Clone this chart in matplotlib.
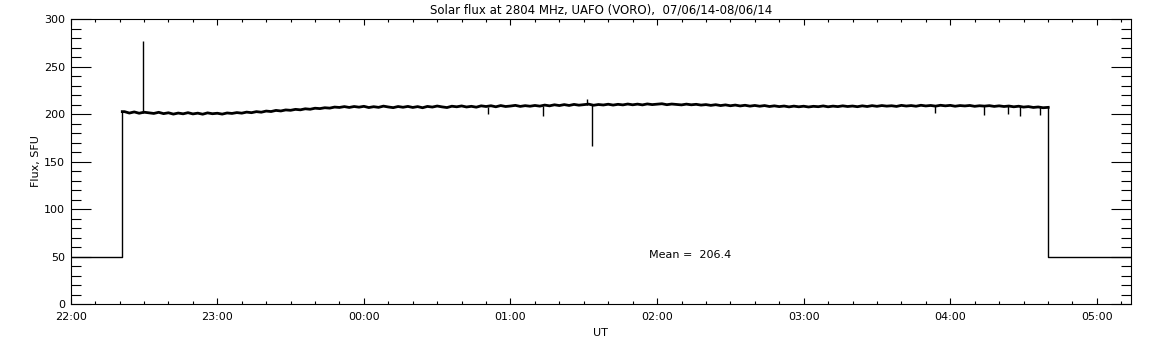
#Solar flux at 2804 MHz, UAFO (VORO)
import numpy as np
import matplotlib
matplotlib.use('Agg')
import matplotlib.pyplot as plt
from matplotlib.ticker import FixedLocator, MultipleLocator

#time in minutes after 22:00 UT
t_start = 21.1
t_end = 400.1
t_max = 434
off_level = 50

#flux samples every 2 minutes, 22 .. 400 min
flux = [
    202.5, 201.0, 202.2, 200.8, 201.9, 201.2, 200.6, 201.8, 200.4, 201.3, 199.9, 201.0, 200.2, 201.4, 200.1,
    200.9, 199.8, 201.2, 200.3, 200.8, 199.9, 201.1, 200.6, 201.5, 200.9, 202.0, 201.4, 202.5, 201.9, 203.1,
    202.6, 203.8, 203.2, 204.3, 203.9, 204.9, 204.4, 205.5, 205.0, 206.1, 205.7, 206.6, 206.2, 207.3, 206.9,
    207.8, 206.9, 207.9, 207.2, 208.1, 206.8, 207.7, 207.0, 208.3, 207.4, 206.7, 207.9, 207.1, 208.0, 206.9,
    207.8, 206.6, 208.0, 207.3, 208.4, 207.5, 206.8, 208.2, 207.6, 208.5, 207.4, 208.1, 207.2, 208.6, 207.9,
    208.7, 207.6, 208.9, 207.9, 208.4, 209.1, 208.0, 208.8, 208.2, 209.0, 208.3, 209.4, 208.6, 209.7, 208.9,
    209.9, 209.0, 210.1, 209.3, 209.8, 210.4, 209.2, 210.0, 209.5, 210.3, 209.4, 210.2, 209.6, 210.5, 209.7,
    210.4, 209.6, 210.6, 209.9, 210.3, 210.8, 209.8, 210.5, 210.0, 209.6, 210.4, 209.7, 210.2, 209.4, 209.9,
    209.1, 209.8, 208.9, 209.6, 208.7, 209.4, 208.5, 209.2, 208.3, 209.0, 208.2, 208.9, 207.9, 208.6, 207.8,
    208.4, 207.5, 208.3, 207.6, 208.2, 207.4, 208.1, 207.7, 208.5, 207.6, 208.3, 207.8, 208.6, 207.9, 208.4,
    207.7, 208.6, 207.9, 208.8, 208.1, 208.9, 208.3, 208.7, 208.0, 209.1, 208.4, 208.9, 208.2, 209.2, 208.5,
    209.0, 208.3, 209.2, 208.6, 209.1, 208.2, 208.9, 208.5, 209.0, 208.1, 208.7, 208.3, 208.8, 208.0, 208.6,
    207.9, 208.4, 207.6, 208.2, 207.3, 207.8, 206.9, 207.4, 206.6, 207.0,
]
t_flux = np.arange(22, 401, 2)

#short spikes and dips
spike_t = [29.6, 170.8, 193.3, 211.5, 213.4, 353.7, 374.0, 383.6, 388.5, 396.7]
spike_base = [201.5, 207.5, 208.5, 210.0, 210.0, 208.8, 208.5, 208.2, 208.0, 207.3]
spike_peak = [277.0, 200.0, 198.0, 215.5, 166.6, 201.0, 199.0, 199.5, 198.0, 198.5]

hour_pos = [0, 60, 120, 180, 240, 300, 360, 420]
hour_labels = ['22:00', '23:00', '00:00', '01:00', '02:00', '03:00', '04:00', '05:00']
mean_flux = 206.4

fig = plt.figure(figsize=(11.52, 3.45), dpi=100)
ax = fig.add_axes([0.0614, 0.1188, 0.9204, 0.8261])

#off-sun level and steps (thin), on-sun noisy band (thick)
ax.plot([0, t_start, t_start], [off_level, off_level, flux[0]], color='black', lw=1.0)
ax.plot([t_end, t_end, t_max], [flux[-1], off_level, off_level], color='black', lw=1.0)
ax.plot(np.concatenate([[t_start], t_flux, [t_end]]), [flux[0]] + flux + [flux[-1]],
        color='black', lw=2.0)
ax.vlines(spike_t, spike_base, spike_peak, color='black', lw=1.0)

ax.set_xlim(0, t_max)
ax.set_ylim(0, 300)

ax.xaxis.set_major_locator(FixedLocator(hour_pos))
ax.set_xticklabels(hour_labels)
ax.xaxis.set_minor_locator(MultipleLocator(10))
ax.yaxis.set_major_locator(MultipleLocator(50))
ax.yaxis.set_minor_locator(MultipleLocator(10))

ax.tick_params(axis='x', which='major', direction='in', length=4, width=0.8,
               top=True, bottom=True, labelsize=8, pad=6)
ax.tick_params(axis='x', which='minor', direction='in', length=2, width=0.8,
               top=True, bottom=True)
ax.tick_params(axis='y', which='major', direction='in', length=14.4, width=0.8,
               left=True, right=True, labelsize=8, pad=4)
ax.tick_params(axis='y', which='minor', direction='in', length=7.2, width=0.8,
               left=True, right=True)
for s in ax.spines.values():
    s.set_linewidth(0.8)

ax.set_title('Solar flux at 2804 MHz, UAFO (VORO),  07/06/14-08/06/14', fontsize=8.5, pad=4)
ax.set_xlabel('UT', fontsize=8, labelpad=4)
ax.set_ylabel('Flux, SFU', fontsize=8, labelpad=2)

ax.text(236.7, 51.6, 'Mean =  %.1f' % mean_flux, fontsize=8, ha='left', va='center')

plt.savefig('out.png', dpi=100)
